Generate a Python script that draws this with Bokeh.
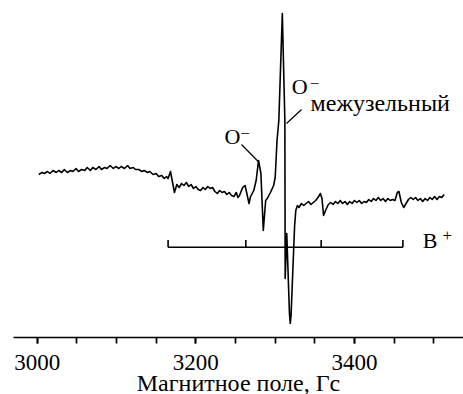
from bokeh.plotting import figure
from bokeh.models import Range1d, SingleIntervalTicker
from bokeh.core.properties import value
from bokeh.embed import file_html
from bokeh.resources import INLINE

# Spectrum: magnetic field (G) and intensity (arb. units)
field = [3002, 3006, 3009, 3013, 3016, 3020, 3024, 3027, 3031, 3034, 3038, 3042, 3045, 3049,
         3052, 3056, 3060, 3063, 3067, 3070, 3074, 3078, 3081, 3085, 3088, 3092, 3096, 3099,
         3103, 3106, 3110, 3114, 3117, 3121, 3124, 3128, 3132, 3135, 3139, 3142, 3146, 3150,
         3153, 3157, 3160, 3163, 3165, 3168, 3173, 3176, 3179, 3182, 3185, 3188, 3191, 3194,
         3197, 3200, 3203, 3206, 3209, 3212, 3215, 3218, 3221, 3224, 3227, 3230, 3233, 3236,
         3239, 3242, 3245, 3248, 3251, 3253, 3255, 3259, 3262, 3264, 3267, 3269, 3271, 3273,
         3276, 3279, 3282, 3285, 3288, 3290, 3294, 3298, 3300, 3301.5, 3302.3, 3304.6, 3309,
         3312.2, 3312.6, 3314.6, 3318, 3319, 3320, 3324.5, 3326, 3328, 3330, 3333, 3336, 3339,
         3342, 3345, 3348, 3351, 3354, 3357, 3359, 3361, 3364, 3367, 3370, 3373, 3376, 3379,
         3382, 3385, 3388, 3391, 3394, 3397, 3400, 3403, 3406, 3409, 3412, 3415, 3418, 3421,
         3424, 3427, 3430, 3433, 3436, 3439, 3442, 3445, 3448, 3451, 3454, 3456, 3459, 3462,
         3465, 3468, 3471, 3474, 3477, 3480, 3483, 3486, 3489, 3492, 3495, 3498, 3501, 3504,
         3507, 3510, 3513]
signal = [2.6, 2.8, 2.7, 2.9, 2.7, 3.0, 2.8, 3.0, 2.8, 3.1, 2.8, 3.0, 2.9, 3.2,
          2.9, 3.1, 3.0, 3.3, 3.0, 3.3, 3.1, 3.4, 3.1, 3.3, 3.2, 3.5, 3.2, 3.4,
          3.2, 3.4, 3.2, 3.5, 3.2, 3.3, 3.1, 3.1, 2.9, 3.0, 2.8, 2.9, 2.6, 2.7,
          2.4, 2.5, 2.2, 2.4, 2.2, 2.9, 0.8, 1.6, 1.3, 1.7, 1.5, 1.8, 1.4, 1.6,
          1.2, 1.4, 1.1, 1.0, 1.3, 1.1, 1.4, 1.2, 1.3, 0.9, 0.7, 1.0, 0.8, 0.9,
          0.6, 0.8, 0.5, 0.4, 0.8, 0.3, 0.5, 1.3, 1.5, 0.8, -0.3, 0.4, 0.7, 1.0,
          2.0, 4.0, 2.7, -3.0, 0.0, 0.2, 0.8, 1.5, 2.3, 4.7, 6.0, 8.0, 18.7,
          8.0, -7.8, -3.3, -11.3, -12.3, -11.5, -2.5, -1.0, -0.5, -0.7, -0.3, -0.5, -0.3,
          -0.1, -0.4, -0.2, 0.0, 0.3, 0.7, 0.2, -1.5, -0.9, -0.4, -0.2, -0.4, -0.1, -0.3,
          0.0, -0.3, -0.1, -0.4, -0.1, -0.3, 0.0, -0.2, 0.0, -0.3, -0.1, -0.2, 0.1, -0.1,
          0.2, 0.0, 0.3, 0.0, 0.2, -0.1, 0.2, 0.0, 0.1, 0.0, 0.8, 0.9, -0.2, -0.7,
          -0.3, 0.1, 0.3, 0.1, 0.3, 0.0, 0.2, -0.1, 0.2, 0.0, 0.3, 0.1, 0.4, 0.1,
          0.4, 0.3, 0.6]

# B+ hyperfine stick diagram
b_lines = [3165, 3263, 3358, 3461]
b_level = -4.67
b_tick_top = -3.95

# Labels
o1_pos = (3246, 6.37)      # lower "O"
o1_minus = (3262, 6.75)
o1_leader = ([3257.5, 3278.6], [5.6, 3.9])
o2_pos = (3331, 11.37)     # upper "O"
o2_minus = (3349.5, 11.75)
o2_leader = ([3314.3, 3333.2], [7.7, 9.1])
mezh_pos = (3344.6, 9.77)
mezh_text = "межузельный"
b_pos = (3486, -3.97)
b_plus = (3517, -3.5)

xlabel = "Магнитное поле, Гс"
FONT = "Liberation Serif"

p = figure(frame_width=450, frame_height=337, output_backend="svg", toolbar_location=None,
           x_range=Range1d(2970.1, 3537.4), y_range=Range1d(-13.7, 20),
           y_axis_location=None)
p.min_border_left = 13
p.min_border_right = 0
p.min_border_top = 0
p.min_border_bottom = 57
p.outline_line_color = None
p.xgrid.visible = False
p.ygrid.visible = False
p.background_fill_color = "white"
p.border_fill_color = "white"

ax = p.xaxis[0]
ax.ticker = SingleIntervalTicker(interval=200, num_minor_ticks=4)
ax.axis_label = xlabel
ax.axis_label_text_font = FONT
ax.axis_label_text_font_style = "normal"
ax.axis_label_text_font_size = "24px"
ax.axis_label_text_color = "black"
ax.axis_label_standoff = -3
ax.major_label_text_font = FONT
ax.major_label_text_font_size = "23px"
ax.major_label_text_color = "black"
ax.major_label_standoff = 11
ax.axis_line_width = 1.7
ax.axis_line_color = "black"
ax.major_tick_line_width = 1.7
ax.minor_tick_line_width = 1.7
ax.major_tick_line_color = "black"
ax.minor_tick_line_color = "black"
ax.major_tick_in = 0
ax.major_tick_out = 6
ax.minor_tick_in = 0
ax.minor_tick_out = 6

p.line(field, signal, line_color="black", line_width=1.6, line_join="round")

# stick diagram
p.segment(x0=[b_lines[0]], y0=[b_level], x1=[b_lines[-1]], y1=[b_level],
          line_color="black", line_width=1.6)
p.segment(x0=b_lines, y0=[b_level] * len(b_lines), x1=b_lines, y1=[b_tick_top] * len(b_lines),
          line_color="black", line_width=1.6)

# leaders
p.line(o1_leader[0], o1_leader[1], line_color="black", line_width=1.2)
p.line(o2_leader[0], o2_leader[1], line_color="black", line_width=1.2)

def txt(x, y, s, size, align="center"):
    p.text(x=[x], y=[y], text=[s], text_font=value(FONT), text_font_size=size,
           text_align=align, text_baseline="alphabetic", text_color="black")

txt(o1_pos[0], o1_pos[1], "O", "22px")
txt(o1_minus[0], o1_minus[1], "\u2212", "17px")
txt(o2_pos[0], o2_pos[1], "O", "22px")
txt(o2_minus[0], o2_minus[1], "\u2212", "17px")
txt(mezh_pos[0], mezh_pos[1], mezh_text, "24px", align="left")
txt(b_pos[0], b_pos[1], "B", "22px", align="left")
txt(b_plus[0], b_plus[1], "+", "17px")

open("out.html", "w").write(file_html(p, INLINE))
